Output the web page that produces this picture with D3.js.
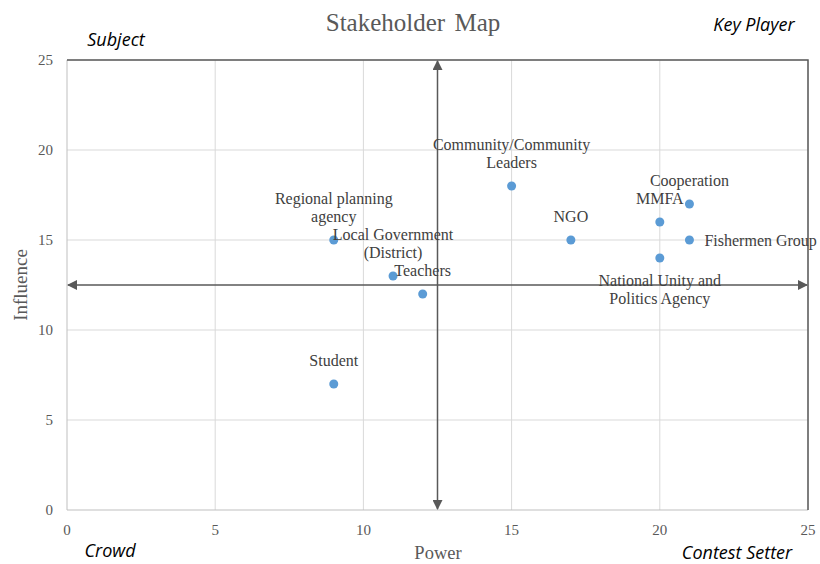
<!DOCTYPE html>
<html><head><meta charset="utf-8">
<script src="https://cdn.jsdelivr.net/npm/d3@7"></script>
<style>body{margin:0;background:#fff}svg{display:block}</style>
</head><body>
<svg id="c" width="820" height="564"></svg>
<script>
const names = ["Regional planning agency","Local Government (District)","Teachers","Student","Community/Community Leaders","NGO","MMFA","Cooperation","Fishermen Group","National Unity and Politics Agency"];
const labelLines = [["Regional planning","agency"],["Local Government","(District)"],["Teachers"],["Student"],["Community/Community","Leaders"],["NGO"],["MMFA"],["Cooperation"],["Fishermen Group"],["National Unity and","Politics Agency"]];
const labelPos = ["above","above","above","above","above","above","above","above","right","below"];
const power = [9,11,12,9,15,17,20,21,21,20];
const influence = [15,13,12,7,18,15,16,17,15,14];
const xTicks = [0,5,10,15,20,25];
const yTicks = [0,5,10,15,20,25];
const midX = 12.5, midY = 12.5;

const svg = d3.select("#c");
const x = d3.scaleLinear().domain([0,25]).range([67,808]);
const y = d3.scaleLinear().domain([0,25]).range([510,60]);
const serif = "'Liberation Serif','Times New Roman',serif";

// gridlines
svg.append("g").selectAll("line").data(xTicks.slice(1)).join("line")
  .attr("x1",d=>x(d)).attr("x2",d=>x(d)).attr("y1",y(0)).attr("y2",y(25))
  .attr("stroke","#d9d9d9").attr("stroke-width",1);
svg.append("g").selectAll("line").data(yTicks.slice(1)).join("line")
  .attr("x1",x(0)).attr("x2",x(25)).attr("y1",d=>y(d)).attr("y2",d=>y(d))
  .attr("stroke","#d9d9d9").attr("stroke-width",1);
// axes lines
svg.append("line").attr("x1",x(0)).attr("x2",x(0)).attr("y1",y(0)).attr("y2",y(25)).attr("stroke","#bfbfbf");
svg.append("line").attr("x1",x(0)).attr("x2",x(25)).attr("y1",y(0)).attr("y2",y(0)).attr("stroke","#bfbfbf");
// top & right border
svg.append("path").attr("d",`M${x(0)},${y(25)}H${x(25)}V${y(0)}`).attr("fill","none").attr("stroke","#595959").attr("stroke-width",1.5);

// tick labels
svg.append("g").selectAll("text").data(xTicks).join("text")
  .attr("x",d=>x(d)).attr("y",535).attr("text-anchor","middle")
  .attr("font-family",serif).attr("font-size",15).attr("fill","#595959").text(d=>d);
svg.append("g").selectAll("text").data(yTicks).join("text")
  .attr("x",53).attr("y",d=>y(d)+5).attr("text-anchor","end")
  .attr("font-family",serif).attr("font-size",15).attr("fill","#595959").text(d=>d);

// arrows
const defs = svg.append("defs");
defs.append("marker").attr("id","ah").attr("viewBox","0 0 10 10").attr("refX",9).attr("refY",5)
  .attr("markerWidth",10).attr("markerHeight",10).attr("markerUnits","userSpaceOnUse").attr("orient","auto-start-reverse")
  .append("path").attr("d","M0,0L10,5L0,10Z").attr("fill","#595959");
svg.append("line").attr("x1",x(midX)).attr("x2",x(midX)).attr("y1",y(0)-1).attr("y2",y(25)+1)
  .attr("stroke","#595959").attr("stroke-width",1.5).attr("marker-start","url(#ah)").attr("marker-end","url(#ah)");
svg.append("line").attr("x1",x(0)+1).attr("x2",x(25)-1).attr("y1",y(midY)).attr("y2",y(midY))
  .attr("stroke","#595959").attr("stroke-width",1.5).attr("marker-start","url(#ah)").attr("marker-end","url(#ah)");

// points
const data = names.map((n,i)=>({n,lines:labelLines[i],pos:labelPos[i],px:power[i],py:influence[i]}));
svg.append("g").selectAll("circle").data(data).join("circle")
  .attr("cx",d=>x(d.px)).attr("cy",d=>y(d.py)).attr("r",4.5).attr("fill","#5b9bd5");

// labels
const lh = 18;
const lg = svg.append("g").attr("font-family",serif).attr("font-size",16).attr("fill","#404040");
data.forEach(d=>{
  const cx = x(d.px), cy = y(d.py);
  const t = lg.append("text");
  let x0, yFirst, anchor;
  if (d.pos==="above") { anchor="middle"; x0=cx; yFirst = cy - 18 - (d.lines.length-1)*lh; }
  else if (d.pos==="below") { anchor="middle"; x0=cx; yFirst = cy + 28; }
  else { anchor="start"; x0=cx+15; yFirst = cy+6; }
  t.attr("text-anchor",anchor);
  d.lines.forEach((l,i)=>t.append("tspan").attr("x",x0).attr("y",yFirst+i*lh).text(l));
});

// title & axis titles
svg.append("text").attr("x",413).attr("y",31).attr("text-anchor","middle").attr("font-family",serif)
  .attr("font-size",25).attr("fill","#595959").attr("word-spacing",3).text("Stakeholder Map");
svg.append("text").attr("x",438).attr("y",559).attr("text-anchor","middle").attr("font-family",serif)
  .attr("font-size",18.5).attr("fill","#595959").text("Power");
svg.append("text").attr("transform",`translate(27,${285}) rotate(-90)`).attr("text-anchor","middle").attr("font-family",serif)
  .attr("font-size",19).attr("fill","#595959").text("Influence");

// quadrant labels
const sans = "'Open Sans','Liberation Sans',sans-serif";
const q = [["Subject",116,46],["Key Player",754,31],["Crowd",110,557],["Contest Setter",737,559]];
svg.append("g").selectAll("text").data(q).join("text")
  .attr("x",d=>d[1]).attr("y",d=>d[2]).attr("text-anchor","middle")
  .attr("font-family",sans).attr("font-style","italic").attr("font-size",18).attr("fill","#000").text(d=>d[0]);
</script>
</body></html>
